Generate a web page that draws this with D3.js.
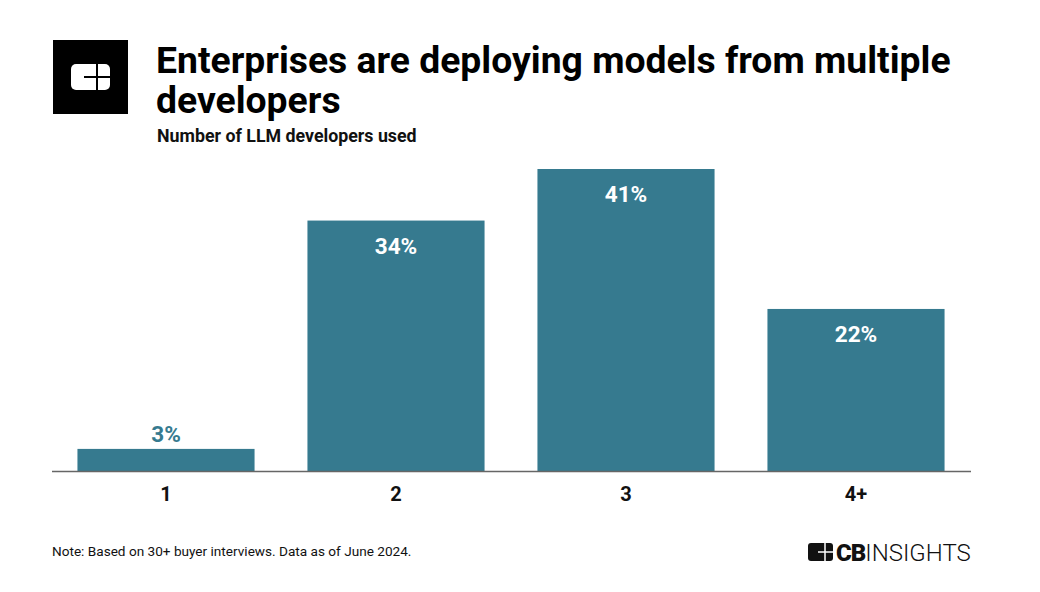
<!DOCTYPE html>
<html><head><meta charset="utf-8">
<script src="https://cdn.jsdelivr.net/npm/d3@7"></script>
<style>body{margin:0;background:#fff;}svg{display:block;font-family:Roboto,"Noto Sans",sans-serif;}</style>
</head><body>
<svg id="c" width="1040" height="592"></svg>
<script>
const categories = ["1","2","3","4+"];
const values = [3,34,41,22];
const valueLabels = ["3%","34%","41%","22%"];
const titleLines = ["Enterprises are deploying models from multiple","developers"];
const subtitle = "Number of LLM developers used";
const note = "Note: Based on 30+ buyer interviews. Data as of June 2024.";

const svg = d3.select("#c");
const color = "#367a8f";
const baseY = 471;
const x = d3.scaleBand().domain(categories).range([51,971]).paddingInner(0.23).paddingOuter(0.115);
const y = d3.scaleLinear().domain([0,41]).range([baseY,169]);

// logo
const lg = svg.append("g");
lg.append("rect").attr("x",53).attr("y",40).attr("width",75).attr("height",74).attr("fill","#000");
lg.append("rect").attr("x",71).attr("y",64).attr("width",39).attr("height",26).attr("rx",5).attr("fill","#fff");
lg.append("line").attr("x1",84).attr("x2",110).attr("y1",77).attr("y2",77).attr("stroke","#000").attr("stroke-width",2);
lg.append("line").attr("x1",97).attr("x2",97).attr("y1",64).attr("y2",90).attr("stroke","#000").attr("stroke-width",2);

svg.selectAll("text.title").data(titleLines).join("text").attr("class","title")
  .attr("x",156).attr("y",(d,i)=>73+i*40).attr("font-size",37.3).attr("font-weight",700).attr("fill","#000").text(d=>d);
svg.append("text").attr("x",157).attr("y",142).attr("font-size",17.8).attr("font-weight",700).attr("fill","#111").text(subtitle);

svg.selectAll("rect.bar").data(values).join("rect").attr("class","bar")
  .attr("x",(d,i)=>x(categories[i])).attr("width",x.bandwidth())
  .attr("y",d=>y(d)).attr("height",d=>baseY-y(d)).attr("fill",color);

svg.selectAll("text.val").data(values).join("text").attr("class","val")
  .attr("x",(d,i)=>x(categories[i])+x.bandwidth()/2)
  .attr("y",d=> d<10 ? y(d)-7 : y(d)+33)
  .attr("text-anchor","middle").attr("font-size",22.5).attr("font-weight",700)
  .attr("fill",d=> d<10 ? color : "#fff").text((d,i)=>valueLabels[i]);

const ax = svg.append("g").attr("transform",`translate(0,${baseY})`).call(d3.axisBottom(x).tickSize(0).tickPadding(16));
ax.select(".domain").attr("stroke","#666").attr("stroke-width",1.5).attr("d","M52,0.5H971");
ax.selectAll("text").attr("font-size",20).attr("font-weight",700).attr("fill","#111").attr("font-family","Roboto,sans-serif");

svg.append("text").attr("x",52).attr("y",556).attr("font-size",13.6).attr("fill","#111").text(note);

// CB Insights logo
const cb = svg.append("g");
cb.append("rect").attr("x",808).attr("y",543).attr("width",25).attr("height",18).attr("rx",3).attr("fill","#111");
cb.append("line").attr("x1",818).attr("x2",833).attr("y1",552).attr("y2",552).attr("stroke","#fff").attr("stroke-width",1.5);
cb.append("line").attr("x1",825).attr("x2",825).attr("y1",543).attr("y2",561).attr("stroke","#fff").attr("stroke-width",1.5);
const t = cb.append("text").attr("x",836).attr("y",561).attr("font-size",24).attr("fill","#111").attr("font-family","Roboto,sans-serif");
t.append("tspan").attr("font-weight",900).attr("letter-spacing",-1).text("CB");
t.append("tspan").attr("font-weight",300).text("INSIGHTS");
</script>
</body></html>
